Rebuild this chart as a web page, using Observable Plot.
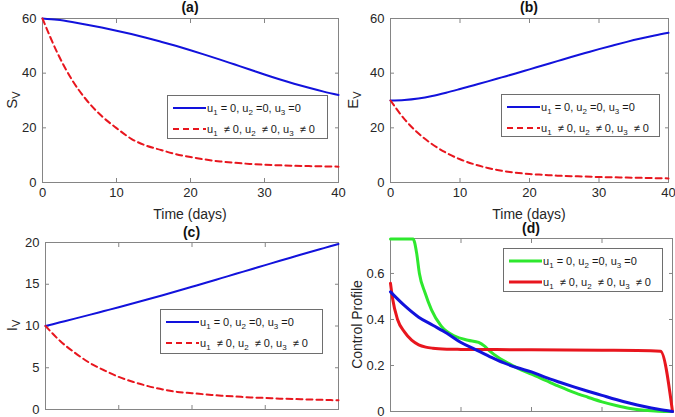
<!DOCTYPE html>
<html><head><meta charset="utf-8">
<script src="https://cdn.jsdelivr.net/npm/d3@7"></script>
<script src="https://cdn.jsdelivr.net/npm/@observablehq/plot@0.6"></script>
<style>
body{margin:0;background:#fff;}
#root{position:relative;width:675px;height:417px;overflow:hidden;background:#fff;font-family:"Liberation Sans",Arial,Helvetica,sans-serif;}
.panel{position:absolute;}
.legend{position:absolute;background:#fff;border:1px solid #6e6e6e;font-size:11px;color:#1a1a1a;box-sizing:border-box;}
.row{position:absolute;left:5px;display:flex;align-items:center;height:14px;white-space:nowrap;}
.row svg{margin-right:1px;display:block;}
sub{font-size:8px;vertical-align:-3px;line-height:0;}
</style></head><body><div id="root"></div>
<script>
// ---------- data ----------
const days = [0,2,4,6,8,10,12,14,16,18,20,22,24,26,28,30,32,34,36,38,40];
const svBase = [60,59.5,58.7,57.75,56.7,55.55,54.3,52.95,51.5,50.0,48.4,46.7,44.95,43.15,41.35,39.5,37.75,36.15,34.65,33.25,32.0];
const svCtrl = [60,47.5,37.5,30.0,24.3,19.9,16.0,13.5,11.9,10.4,9.3,8.4,7.7,7.2,6.8,6.5,6.3,6.1,6.0,5.9,5.8];
const evBase = [30,30.2,30.75,31.65,32.85,34.2,35.6,37.0,38.45,39.9,41.4,42.9,44.4,45.9,47.35,48.8,50.15,51.45,52.65,53.75,54.75];
const evCtrl = [30,23.2,18.0,14.0,10.9,8.5,6.7,5.3,4.3,3.6,3.1,2.8,2.5,2.3,2.2,2.0,1.9,1.8,1.7,1.6,1.5];
const ivBase = [10,10.44,10.88,11.33,11.79,12.25,12.72,13.2,13.69,14.19,14.7,15.21,15.73,16.25,16.77,17.29,17.81,18.32,18.83,19.33,19.83];
const ivCtrl = [10,8.2,6.8,5.6,4.7,3.9,3.3,2.8,2.4,2.1,1.95,1.8,1.65,1.55,1.45,1.38,1.3,1.25,1.2,1.15,1.1];
// control profiles (panel d)
const blueU = [0.52,0.46,0.41,0.375,0.34,0.30,0.27,0.24,0.212,0.19,0.172,0.148,0.127,0.107,0.088,0.07,0.052,0.036,0.022,0.01,0];
const greenT = [0,3.2,3.7,4.1,4.9,5.8,7.2,9.1,11,12.5,13.3,14,15.3,17,18.6,20,22,24,26,28,30,32,34,36,38,40];
const greenU = [0.75,0.75,0.69,0.60,0.516,0.443,0.371,0.328,0.31,0.30,0.285,0.265,0.235,0.205,0.18,0.162,0.135,0.108,0.083,0.062,0.042,0.026,0.013,0.005,0.001,0];
const redT = [0,0.3,1,2,3,4,5,6,8,10,15,20,25,30,35,38.3,40];
const redU = [0.557,0.49,0.40,0.345,0.31,0.29,0.28,0.275,0.271,0.27,0.269,0.268,0.267,0.266,0.265,0.262,0];

const xTicks = [0,10,20,30,40];
const legendLabels = [
  "u<sub>1</sub> = 0, u<sub>2</sub> =0, u<sub>3</sub> =0",
  "u<sub>1</sub> &nbsp;≠ 0, u<sub>2</sub> &nbsp;≠ 0, u<sub>3</sub> &nbsp;≠ 0"
];

const BLUE = "#1212dc", RED = "#e8161e", GREEN = "#2ee82e";
const FRAME = "#858585", TXT = "#262626";
const FONT = '"Liberation Sans",Arial,Helvetica,sans-serif';
const root = document.getElementById("root");

function panel(cfg) {
  const {left, top, width, height, m, yDomain, yTicks, lines, hideX, yFmt} = cfg;
  const marks = [
    Plot.frame({stroke: FRAME}),
    Plot.axisX({ticks: xTicks, anchor: "bottom", tickSize: -4, tickPadding: 9, label: null,
      tickFormat: hideX ? () => "" : d => String(d), stroke: FRAME, fill: TXT, fontSize: 13}),
    Plot.axisX({ticks: xTicks, anchor: "top", tickSize: -4, label: null, tickFormat: () => "", stroke: FRAME}),
    Plot.axisY({ticks: yTicks, anchor: "left", tickSize: -4, tickPadding: 10, label: null,
      tickFormat: yFmt || (d => String(d)), stroke: FRAME, fill: TXT, fontSize: 13}),
    Plot.axisY({ticks: yTicks, anchor: "right", tickSize: -4, label: null, tickFormat: () => "", stroke: FRAME}),
    ...lines.map(l => Plot.lineY(l.y, {x: l.x, stroke: l.color, strokeWidth: l.w,
      strokeDasharray: l.dash || null, curve: "monotone-x"}))
  ];
  const svg = Plot.plot({
    width, height,
    marginLeft: m[3], marginRight: m[1], marginTop: m[0], marginBottom: m[2],
    x: {domain: [0, 40]},
    y: {domain: yDomain},
    style: {background: "transparent", fontFamily: FONT, overflow: "visible", color: TXT},
    marks
  });
  const div = document.createElement("div");
  div.className = "panel";
  div.style.left = left + "px"; div.style.top = top + "px";
  div.appendChild(svg);
  root.appendChild(div);
  const s = d3.select(svg);
  const cx = m[3] + (width - m[3] - m[1]) / 2;
  const cy = m[0] + (height - m[0] - m[2]) / 2;
  s.append("text").attr("x", cx).attr("y", cfg.titleY).attr("text-anchor", "middle")
    .attr("font-size", 14).attr("font-weight", "bold").attr("fill", "#111").attr("font-family", FONT).text(cfg.title);
  if (cfg.xLabel) s.append("text").attr("x", cx).attr("y", cfg.xLabelY).attr("text-anchor", "middle")
    .attr("font-size", 14).attr("fill", TXT).attr("font-family", FONT).text(cfg.xLabel);
  const t = s.append("text").attr("transform", `translate(${cfg.yLabelX},${cy}) rotate(-90)`)
    .attr("text-anchor", "middle").attr("font-size", cfg.yLabelSize || 15).attr("fill", TXT).attr("font-family", FONT);
  t.append("tspan").text(cfg.yLabel[0]);
  if (cfg.yLabel[1]) t.append("tspan").attr("font-size", 11).attr("dy", "0.3em").text(cfg.yLabel[1]);
}

function legend(left, top, width, height, entries) {
  const box = document.createElement("div");
  box.className = "legend";
  Object.assign(box.style, {left: left + "px", top: top + "px", width: width + "px", height: height + "px"});
  entries.forEach((e, i) => {
    const row = document.createElement("div");
    row.className = "row";
    row.style.top = (i === 0 ? 5 : 26) + "px";
    row.innerHTML = `<svg width="33" height="6"><line x1="0" y1="3" x2="33" y2="3" stroke="${e.color}" stroke-width="${e.w}" ${e.dash ? `stroke-dasharray="${e.dash}"` : ""}/></svg><span>${legendLabels[i]}</span>`;
    box.appendChild(row);
  });
  root.appendChild(box);
}

const dashed = "6,4";
panel({left: 0, top: 0, width: 345, height: 222, m: [18, 7, 40, 42],
  yDomain: [0, 60], yTicks: [0, 20, 40, 60], title: "(a)", titleY: 12,
  xLabel: "Time (days)", xLabelY: 219, yLabel: ["S", "V"], yLabelX: 17,
  lines: [{x: days, y: svBase, color: BLUE, w: 2}, {x: days, y: svCtrl, color: RED, w: 2, dash: dashed}]});
panel({left: 340, top: 0, width: 335, height: 222, m: [18, 7, 40, 50],
  yDomain: [0, 60], yTicks: [0, 20, 40, 60], title: "(b)", titleY: 12,
  xLabel: "Time (days)", xLabelY: 219, yLabel: ["E", "V"], yLabelX: 18,
  lines: [{x: days, y: evBase, color: BLUE, w: 2}, {x: days, y: evCtrl, color: RED, w: 2, dash: dashed}]});
panel({left: 0, top: 222, width: 345, height: 195, m: [20, 7, 8, 45], hideX: true,
  yDomain: [0, 20], yTicks: [0, 5, 10, 15, 20], title: "(c)", titleY: 15,
  yLabel: ["I", "V"], yLabelX: 17,
  lines: [{x: days, y: ivBase, color: BLUE, w: 2}, {x: days, y: ivCtrl, color: RED, w: 2, dash: dashed}]});
panel({left: 340, top: 222, width: 335, height: 195, m: [16, 3, 6, 50], hideX: true,
  yDomain: [0, 0.752], yTicks: [0, 0.2, 0.4, 0.6], title: "(d)", titleY: 11,
  yLabel: ["Control Profile"], yLabelX: 22, yLabelSize: 14,
  lines: [{x: greenT, y: greenU, color: GREEN, w: 3}, {x: redT, y: redU, color: RED, w: 3}, {x: days, y: blueU, color: BLUE, w: 3}]});

legend(167, 95, 161, 44, [{color: BLUE, w: 2}, {color: RED, w: 2, dash: dashed}]);
legend(501, 94, 159, 43, [{color: BLUE, w: 2}, {color: RED, w: 2, dash: dashed}]);
legend(160, 309, 163, 45, [{color: BLUE, w: 2}, {color: RED, w: 2, dash: dashed}]);
legend(503, 248, 160, 44, [{color: GREEN, w: 3}, {color: RED, w: 3}]);
</script></body></html>
